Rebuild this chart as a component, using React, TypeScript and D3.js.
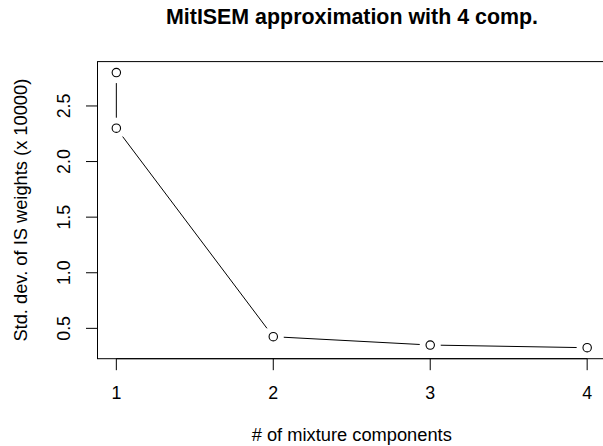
import * as d3 from "d3";

// number of mixture components (the first step repeats component 1)
const components = [1, 1, 2, 3, 4];
// std. dev. of IS weights, in units of 10000
const stdDevs = [2.8, 2.3, 0.425, 0.35, 0.326];
const xTicks = [1, 2, 3, 4];
const yTicks = [0.5, 1.0, 1.5, 2.0, 2.5];

const width = 603;
const height = 446;
const plot = { left: 97.5, right: 606, top: 61.6, bottom: 358.7 };
const fontFamily = "'Liberation Sans', Arial, Helvetica, sans-serif";
const gap = 10.5;

function padded(values: number[]): [number, number] {
  const [lo, hi] = d3.extent(values) as [number, number];
  const ext = (hi - lo) * 0.04;
  return [lo - ext, hi + ext];
}

export default function App() {
  const xScale = d3.scaleLinear().domain(padded(components)).range([plot.left, plot.right]);
  const yScale = d3.scaleLinear().domain(padded(stdDevs)).range([plot.bottom, plot.top]);

  const points = components.map((c, i) => ({ x: xScale(c), y: yScale(stdDevs[i]) }));
  const segments = d3.pairs(points).map(([a, b]) => {
    const dx = b.x - a.x;
    const dy = b.y - a.y;
    const len = Math.hypot(dx, dy);
    const ux = dx / len;
    const uy = dy / len;
    return { x1: a.x + ux * gap, y1: a.y + uy * gap, x2: b.x - ux * gap, y2: b.y - uy * gap };
  });

  const midX = (plot.left + plot.right) / 2;
  const midY = (plot.top + plot.bottom) / 2;

  return (
    <svg
      width={width}
      height={height}
      style={{ position: "absolute", left: 0, top: 0, background: "#fff" }}
      fontFamily={fontFamily}
    >
      <rect width={width} height={height} fill="#fff" />
      <text x={352} y={24} textAnchor="middle" fontWeight="bold" fontSize={21.4} fill="#000">
        MitISEM approximation with 4 comp.
      </text>

      {/* box */}
      <rect
        x={plot.left}
        y={plot.top}
        width={plot.right - plot.left}
        height={plot.bottom - plot.top}
        fill="none"
        stroke="#000"
        strokeWidth={1}
      />

      {/* x axis */}
      <line x1={xScale(xTicks[0])} x2={xScale(xTicks[xTicks.length - 1])} y1={plot.bottom} y2={plot.bottom} stroke="#000" />
      {xTicks.map((t) => (
        <g key={`x-${t}`}>
          <line x1={xScale(t)} x2={xScale(t)} y1={plot.bottom} y2={plot.bottom + 11.5} stroke="#000" />
          <text x={xScale(t)} y={399.3} textAnchor="middle" fontSize={17.8} fill="#000">
            {t}
          </text>
        </g>
      ))}

      {/* y axis */}
      <line x1={plot.left} x2={plot.left} y1={yScale(yTicks[0])} y2={yScale(yTicks[yTicks.length - 1])} stroke="#000" />
      {yTicks.map((t) => (
        <g key={`y-${t}`}>
          <line x1={plot.left} x2={plot.left - 11.5} y1={yScale(t)} y2={yScale(t)} stroke="#000" />
          <text
            transform={`translate(70.3, ${yScale(t)}) rotate(-90)`}
            textAnchor="middle"
            fontSize={17.8}
            fill="#000"
          >
            {t.toFixed(1)}
          </text>
        </g>
      ))}

      <text x={midX} y={440.5} textAnchor="middle" fontSize={18.3} fill="#000">
        # of mixture components
      </text>
      <text transform={`translate(26.7, ${midY}) rotate(-90)`} textAnchor="middle" fontSize={18.3} fill="#000">
        Std. dev. of IS weights (x 10000)
      </text>

      {/* line segments with gaps (type = "b") */}
      {segments.map((s, i) => (
        <line key={`s-${i}`} x1={s.x1} y1={s.y1} x2={s.x2} y2={s.y2} stroke="#000" strokeWidth={1} />
      ))}
      {points.map((p, i) => (
        <circle key={`p-${i}`} cx={p.x} cy={p.y} r={4.2} fill="none" stroke="#000" strokeWidth={1.1} />
      ))}
    </svg>
  );
}
